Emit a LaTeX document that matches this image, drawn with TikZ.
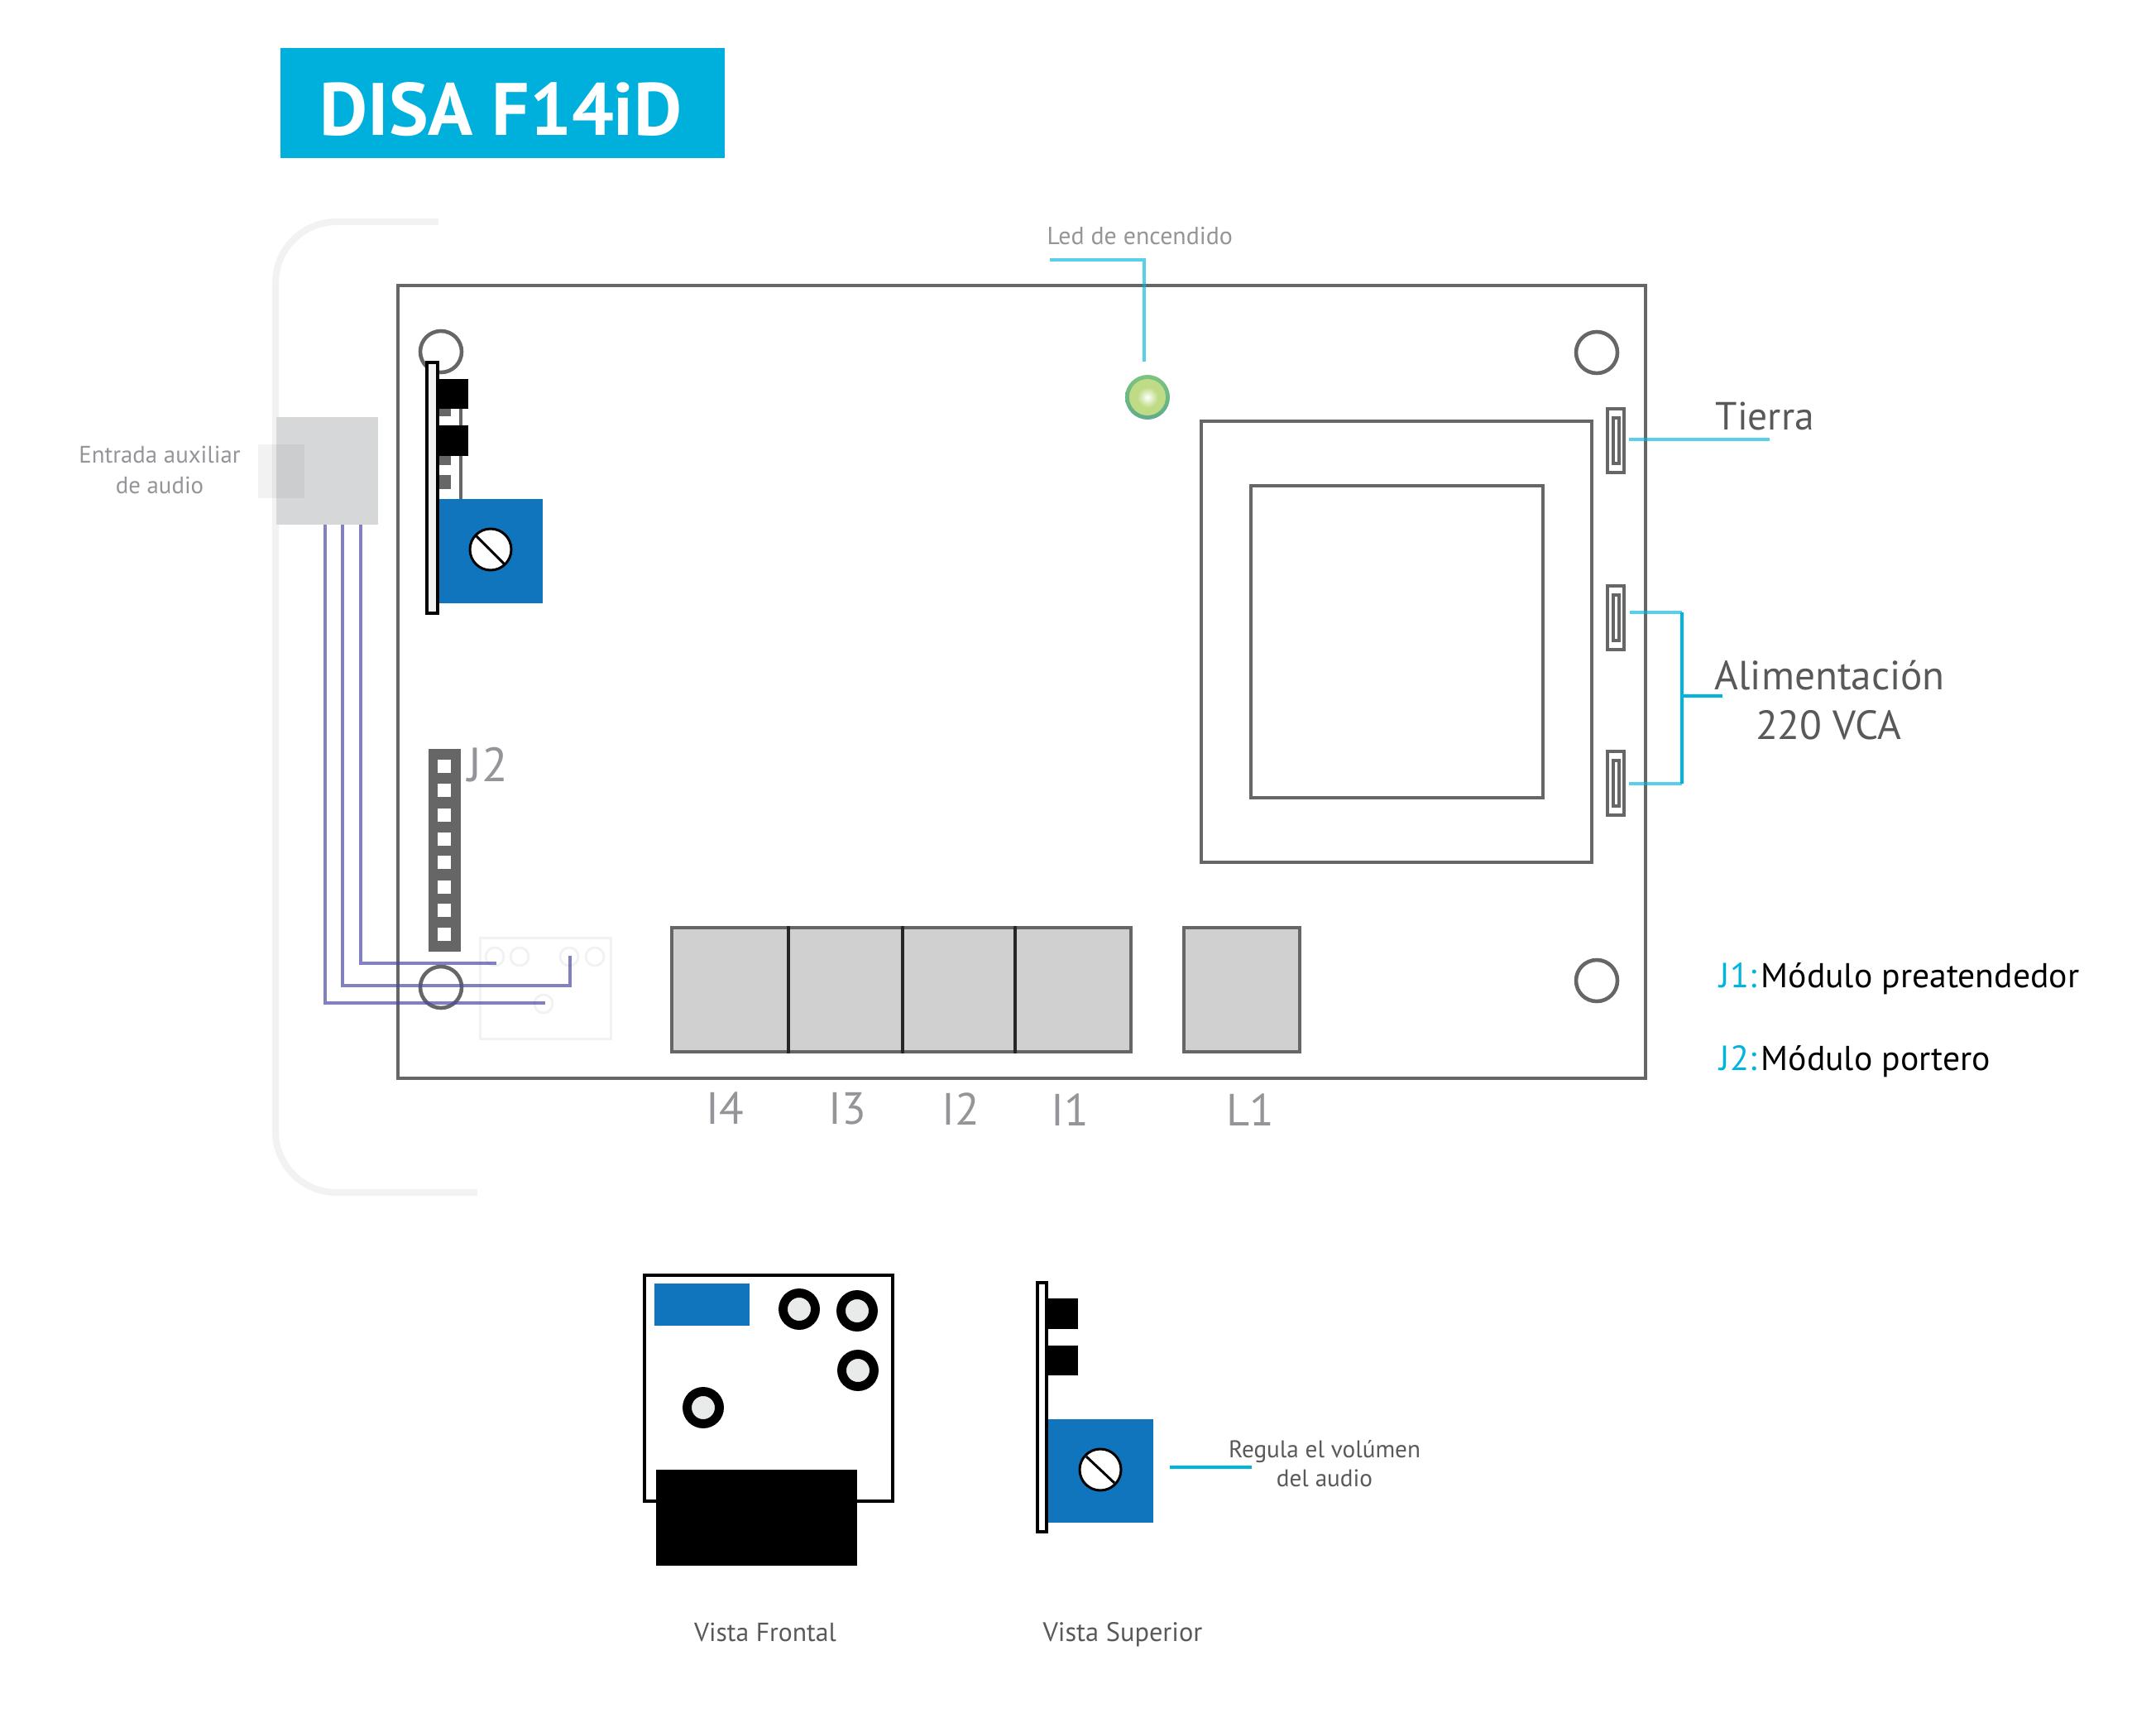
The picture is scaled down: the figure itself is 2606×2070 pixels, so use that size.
\documentclass[tikz,border=0pt]{standalone}
\usepackage{fontspec}
\setmainfont{PT Sans}
\usepackage{tikz}
\usetikzlibrary{positioning}
\definecolor{gray4}{HTML}{666666}
\definecolor{gray5}{HTML}{58595B}
\definecolor{gray6}{HTML}{939598}
\definecolor{gray7}{HTML}{D6D7D9}
\definecolor{gray8}{HTML}{D0D0D0}
\definecolor{gray9}{HTML}{F1F2F2}
\definecolor{title}{HTML}{00B0DC}
\definecolor{lead}{HTML}{00B5DD}
\definecolor{pot}{HTML}{1075BD}
\definecolor{wire}{HTML}{4C4CA8}
\definecolor{ledin}{HTML}{BFDB85}
\definecolor{ledtop}{HTML}{7CC47F}
\definecolor{ledbot}{HTML}{5FAB8B}
\pgfdeclareradialshading{ledglow}{\pgfpoint{0bp}{0bp}}{color(0bp)=(white); color(14bp)=(ledin); color(50bp)=(ledin)}

\begin{document}
\begin{tikzpicture}
[x=0.01cm,y=-0.01cm]
\tikzstyle{txt}=[inner sep=0,anchor=base west]
\tikzstyle{mid}=[inner sep=0,anchor=base]
\tikzstyle{board}=[draw=gray4,line width=1.3pt]
\tikzstyle{relay}=[fill=gray8,draw=gray4,line width=1.3pt]
\tikzstyle{split}=[draw=black!85,line width=1.2pt]
\tikzstyle{faded}=[draw=gray9,line width=0.85pt]
\tikzstyle{hole}=[draw=gray4,line width=1.3pt]
\tikzstyle{strip}=[fill=gray9,draw=black,line width=1.14pt]
\tikzstyle{knob}=[fill=white,draw=black,line width=0.85pt]
\tikzstyle{pad}=[fill=gray9!70!gray7,draw=black,line width=3.1pt]
\tikzstyle{pale}=[draw=lead,opacity=0.65,line width=1.3pt]
\tikzstyle{solid}=[draw=lead,line width=1.3pt]
\tikzstyle{cable}=[draw=wire,opacity=0.7,line width=1.1pt]

\useasboundingbox (0,0) rectangle (2606,2070);

\fill [title] (339,58) rectangle (876,191);
\node [txt,white,font=\fontsize{25.5}{27}\selectfont\bfseries] (head) at (386,164) {DISA F14iD};

\draw [gray9,line width=2.3pt,rounded corners=21pt] (530,268) -- (333,268) -- (333,1441) -- (577,1441);
\fill [gray7] (334,504) rectangle (457,634);
\fill [gray5,opacity=0.08] (312,537) rectangle (368,602);
\node [mid,gray6,font=\fontsize{8.2}{10}\selectfont] (aux1) at (193,559) {Entrada auxiliar};
\node [mid,gray6,font=\fontsize{8.2}{10}\selectfont] (aux2) at (193,596) {de audio};

\draw [board] (481,345) rectangle (1989,1303);
\draw [hole] (533,425) circle (25);
\draw [hole] (1930,426) circle (25);
\draw [hole] (1930,1185) circle (25);
\draw [hole] (533,1193) circle (25);

\draw [board] (1452,509) rectangle (1924,1042);
\draw [board] (1512,587) rectangle (1865,964);
\draw [board] (1943,494) rectangle (1963,571);
\draw [board] (1950,505) rectangle (1957,560);
\draw [board] (1943,708) rectangle (1963,785);
\draw [board] (1950,719) rectangle (1957,774);
\draw [board] (1943,908) rectangle (1963,985);
\draw [board] (1950,919) rectangle (1957,974);

\draw [relay] (812,1121) rectangle (1367,1271);
\draw [split] (953,1119) -- (953,1273);
\draw [split] (1091,1119) -- (1091,1273);
\draw [split] (1227,1119) -- (1227,1273);
\draw [relay] (1431,1121) rectangle (1571,1271);
\node [mid,gray6,font=\fontsize{15.5}{18}\selectfont] (i4) at (876,1358) {I4};
\node [mid,gray6,font=\fontsize{15.5}{18}\selectfont] (i3) at (1024,1358) {I3};
\node [mid,gray6,font=\fontsize{15.5}{18}\selectfont] (i2) at (1161,1359) {I2};
\node [mid,gray6,font=\fontsize{15.5}{18}\selectfont] (i1) at (1293,1360) {I1};
\node [mid,gray6,font=\fontsize{15.5}{18}\selectfont] (l1) at (1511,1360) {L1};

\fill [gray4] (518,905) rectangle (557,1150);
\fill [white] (529,918) rectangle (545,934);
\fill [white] (529,947) rectangle (545,963);
\fill [white] (529,977) rectangle (545,993);
\fill [white] (529,1006) rectangle (545,1022);
\fill [white] (529,1034) rectangle (545,1050);
\fill [white] (529,1064) rectangle (545,1080);
\fill [white] (529,1092) rectangle (545,1108);
\fill [white] (529,1121) rectangle (545,1137);
\node [txt,gray6,font=\fontsize{16.5}{18}\selectfont] (j2) at (565,944) {J2};

\draw [faded] (580,1133) rectangle (738,1255);
\draw [faded] (598,1156) circle (11);
\draw [faded] (628,1156) circle (11);
\draw [faded] (688,1156) circle (11);
\draw [faded] (719,1156) circle (11);
\draw [faded] (657,1213) circle (11);

\coordinate (w1a) at (436,634);
\coordinate (w1b) at (436,1164);
\coordinate (w1c) at (600,1164);
\coordinate (w2a) at (414,634);
\coordinate (w2b) at (414,1191);
\coordinate (w2c) at (689,1191);
\coordinate (w2d) at (689,1155);
\coordinate (w3a) at (393,634);
\coordinate (w3b) at (393,1212);
\coordinate (w3c) at (659,1212);
\draw [cable] (w1a) -- (w1b) -- (w1c);
\draw [cable] (w2a) -- (w2b) -- (w2c) -- (w2d);
\draw [cable] (w3a) -- (w3b) -- (w3c);

\fill [gray4] (531,494) rectangle (545,503);
\fill [gray4] (531,551) rectangle (545,562);
\fill [gray4] (531,574) rectangle (545,591);
\draw [board] (557,494) -- (557,604);
\fill [black] (531,458) rectangle (566,494);
\fill [black] (531,514) rectangle (566,551);
\fill [pot] (531,603) rectangle (656,729);
\draw [strip] (516,438) rectangle (529,741);
\draw [knob] (593,664) circle (25);
\draw [knob] (575,647) -- (610,682);

\shade [top color=ledtop,bottom color=ledbot] (1387,480) circle (27);
\shade [shading=ledglow] (1387,480) circle (22);
\node [txt,gray6,font=\fontsize{8.5}{10}\selectfont] (led) at (1265,296) {Led de encendido};
\coordinate (l1a) at (1269,314);
\coordinate (l1b) at (1383,314);
\coordinate (l1c) at (1383,437);
\draw [pale] (l1a) -- (l1b) -- (l1c);

\node [txt,gray5,font=\fontsize{13.5}{16}\selectfont] (tierra) at (2073,520) {Tierra};
\node [txt,gray5,font=\fontsize{14}{16}\selectfont] (alim) at (2072,833) {Alimentación};
\node [mid,gray5,font=\fontsize{14}{16}\selectfont] (vca) at (2210,893) {220 VCA};
\coordinate (t1) at (1969,531);
\coordinate (t2) at (2139,531);
\coordinate (a1) at (1970,740);
\coordinate (a2) at (2033,740);
\coordinate (a3) at (1969,947);
\coordinate (a4) at (2033,947);
\coordinate (a5) at (2033,841);
\coordinate (a6) at (2082,841);
\draw [pale] (t1) -- (t2);
\draw [pale] (a1) -- (a2);
\draw [pale] (a3) -- (a4);
\draw [solid] (a2) -- (a4);
\draw [solid] (a5) -- (a6);

\node [txt,lead,font=\fontsize{12}{14}\selectfont] (j1t) at (2078,1193) {J1:};
\node [txt,font=\fontsize{11.85}{14}\selectfont] (j1m) at (2128,1193) {Módulo preatendedor};
\node [txt,lead,font=\fontsize{12}{14}\selectfont] (j2t) at (2078,1293) {J2:};
\node [txt,font=\fontsize{11.85}{14}\selectfont] (j2m) at (2128,1293) {Módulo portero};

\draw [line width=1.14pt] (779,1541) rectangle (1079,1814);
\fill [pot] (791,1551) rectangle (906,1602);
\draw [pad] (966,1582) circle (19.5);
\draw [pad] (1036,1584) circle (19.5);
\draw [pad] (1037,1656) circle (19.5);
\draw [pad] (850,1701) circle (19.5);
\fill [black] (793,1776) rectangle (1036,1892);
\node [mid,gray5,font=\fontsize{9}{10}\selectfont] (front) at (925,1983) {Vista Frontal};

\fill [black] (1267,1569) rectangle (1303,1606);
\fill [black] (1267,1626) rectangle (1303,1662);
\fill [pot] (1267,1715) rectangle (1394,1840);
\draw [strip,fill=white] (1254,1550) rectangle (1265,1851);
\draw [knob] (1330,1776) circle (25);
\draw [knob] (1313,1760) -- (1347,1792);
\coordinate (r1) at (1414,1773);
\coordinate (r2) at (1513,1773);
\draw [solid] (r1) -- (r2);
\node [mid,gray5,font=\fontsize{8.3}{10}\selectfont] (reg1) at (1601,1761) {Regula el volúmen};
\node [mid,gray5,font=\fontsize{8.3}{10}\selectfont] (reg2) at (1601,1796) {del audio};
\node [mid,gray5,font=\fontsize{9.2}{10}\selectfont] (sup) at (1357,1983) {Vista Superior};

\end{tikzpicture}
\end{document}
